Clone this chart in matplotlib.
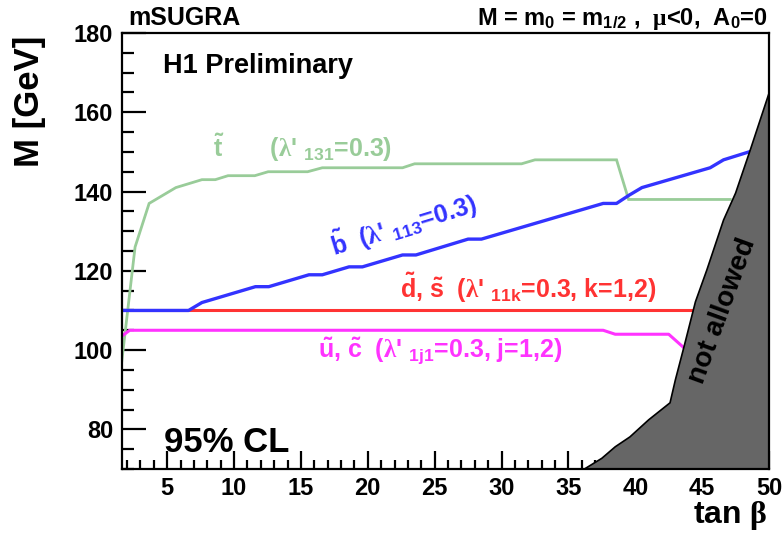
import matplotlib
matplotlib.use('Agg')
import matplotlib.pyplot as plt

plt.rcParams['font.family'] = ['Liberation Sans', 'DejaVu Sans']
plt.rcParams['font.weight'] = 'bold'
plt.rcParams['mathtext.fontset'] = 'custom'
plt.rcParams['mathtext.rm'] = 'Liberation Sans:bold'
plt.rcParams['mathtext.it'] = 'Liberation Sans:bold'
plt.rcParams['mathtext.bf'] = 'Liberation Sans:bold'
plt.rcParams['mathtext.cal'] = 'Liberation Serif'
plt.rcParams['mathtext.default'] = 'rm'

# stop (lambda'_131)
stop_tanb = [1.6, 2.6, 3.65, 5.65, 7.6, 8.6, 9.55, 11.55, 12.55, 15.5, 16.6, 22.6, 23.5, 31.5, 32.5, 38.6, 39.5, 47.1]
stop_m = [97, 126, 137, 141, 143, 143, 144, 144, 145, 145, 146, 146, 147, 147, 148, 148, 138, 138]

# sbottom (lambda'_113)
sbot_tanb = [1.6, 6.6, 7.6, 11.6, 12.6, 15.6, 16.6, 18.6, 19.6, 22.6, 23.6, 27.5, 28.5, 37.6, 38.6, 39.5, 40.5, 45.6, 46.6, 48.5]
sbot_m = [110, 110, 112, 116, 116, 119, 119, 121, 121, 124, 124, 128, 128, 137, 137, 139, 141, 146, 148, 150]

# sdown, sstrange (lambda'_11k)
sdown_tanb = [1.6, 44.3]
sdown_m = [110, 110]

# sup, scharm (lambda'_1j1)
sup_tanb = [1.6, 2.2, 37.6, 38.5, 42.5, 43.6]
sup_m = [103.5, 105, 105, 104, 104, 100.7]

# edge of the theoretically forbidden region
excl_tanb = [36.2, 37.5, 38.5, 39.6, 41.0, 42.6, 43.0, 43.65, 44.5, 45.35, 46.6, 47.5, 48.6, 50.0, 50.0]
excl_m = [70, 72.7, 75.6, 78.1, 82.4, 86.7, 92.5, 100.9, 112.2, 120.2, 132.8, 139.6, 150.5, 164.8, 70]

W, H = 783, 538
fig = plt.figure(figsize=(W / 100, H / 100), dpi=100)
ax = fig.add_axes([121.7 / W, 1 - 469 / H, (769 - 121.7) / W, (469 - 33) / H])

ax.plot(stop_tanb, stop_m, color='#99cc99', lw=2.0, solid_joinstyle='miter')
ax.plot(sdown_tanb, sdown_m, color='#ff3333', lw=2.2)
ax.plot(sbot_tanb, sbot_m, color='#3333ff', lw=2.4)
ax.plot(sup_tanb, sup_m, color='#ff33ff', lw=2.2)
ax.fill(excl_tanb, excl_m, facecolor='#666666', edgecolor='black', lw=1.2, zorder=5)

ax.set_xlim(1.6, 50)
ax.set_ylim(70, 180)
ax.set_xticks(range(5, 51, 5))
ax.set_xticks(range(2, 51), minor=True)
ax.set_yticks(range(80, 181, 20))
ax.set_yticks(range(70, 181, 5), minor=True)
ax.tick_params(which='both', direction='in', top=False, right=False, width=1.6, labelsize=17, zorder=6)
ax.tick_params(axis='x', which='major', length=13, pad=6)
ax.tick_params(axis='x', which='minor', length=6.5)
ax.tick_params(axis='y', which='major', length=17, pad=6)
ax.tick_params(axis='y', which='minor', length=8.5)
for s in ax.spines.values():
    s.set_linewidth(1.6)
    s.set_zorder(7)

# curve labels
lam = r"$\mathcal{\lambda}$'"
ax.text(8.4, 148.7, r"$\tilde{\rm t}$       (" + lam + r" $_{131}$=0.3)", color='#99cc99', fontsize=18)
ax.text(17.5, 123.7, r"$\tilde{\rm b}$  (" + lam + r" $_{113}$=0.3)", color='#3333ff', fontsize=18,
        rotation=17, rotation_mode='anchor')
ax.text(22.4, 113.1, r"$\tilde{\rm d}$, $\tilde{\rm s}$  (" + lam + r" $_{11k}$=0.3, k=1,2)", color='#ff3333', fontsize=18)
ax.text(16.3, 98.0, r"$\tilde{\rm u}$, $\tilde{\rm c}$  (" + lam + r" $_{1j1}$=0.3, j=1,2)", color='#ff33ff', fontsize=18)
ax.text(46.5, 110, 'not allowed', rotation=70, ha='center', va='center', fontsize=20, color='black', zorder=8)

ax.text(0.064, 0.955, 'H1 Preliminary', transform=ax.transAxes, fontsize=19.5, va='top')
ax.text(0.065, 0.04, '95% CL', transform=ax.transAxes, fontsize=25)

fig.text(128 / W, 1 - 25 / H, 'mSUGRA', fontsize=18)
fig.text(768 / W, 1 - 25 / H, r"M = m$_0$ = m$_{1/2}$ ,  $\mathcal{\mu}$<0,  A$_0$=0", fontsize=17, ha='right')

fig.text(29 / W, 1 - 101 / H, 'M [GeV]', rotation=90, fontsize=25, ha='center', va='center')
fig.text(768 / W, 1 - 523 / H, r"tan $\mathcal{\beta}$", fontsize=23, ha='right')

fig.savefig('out.png', dpi=100)
